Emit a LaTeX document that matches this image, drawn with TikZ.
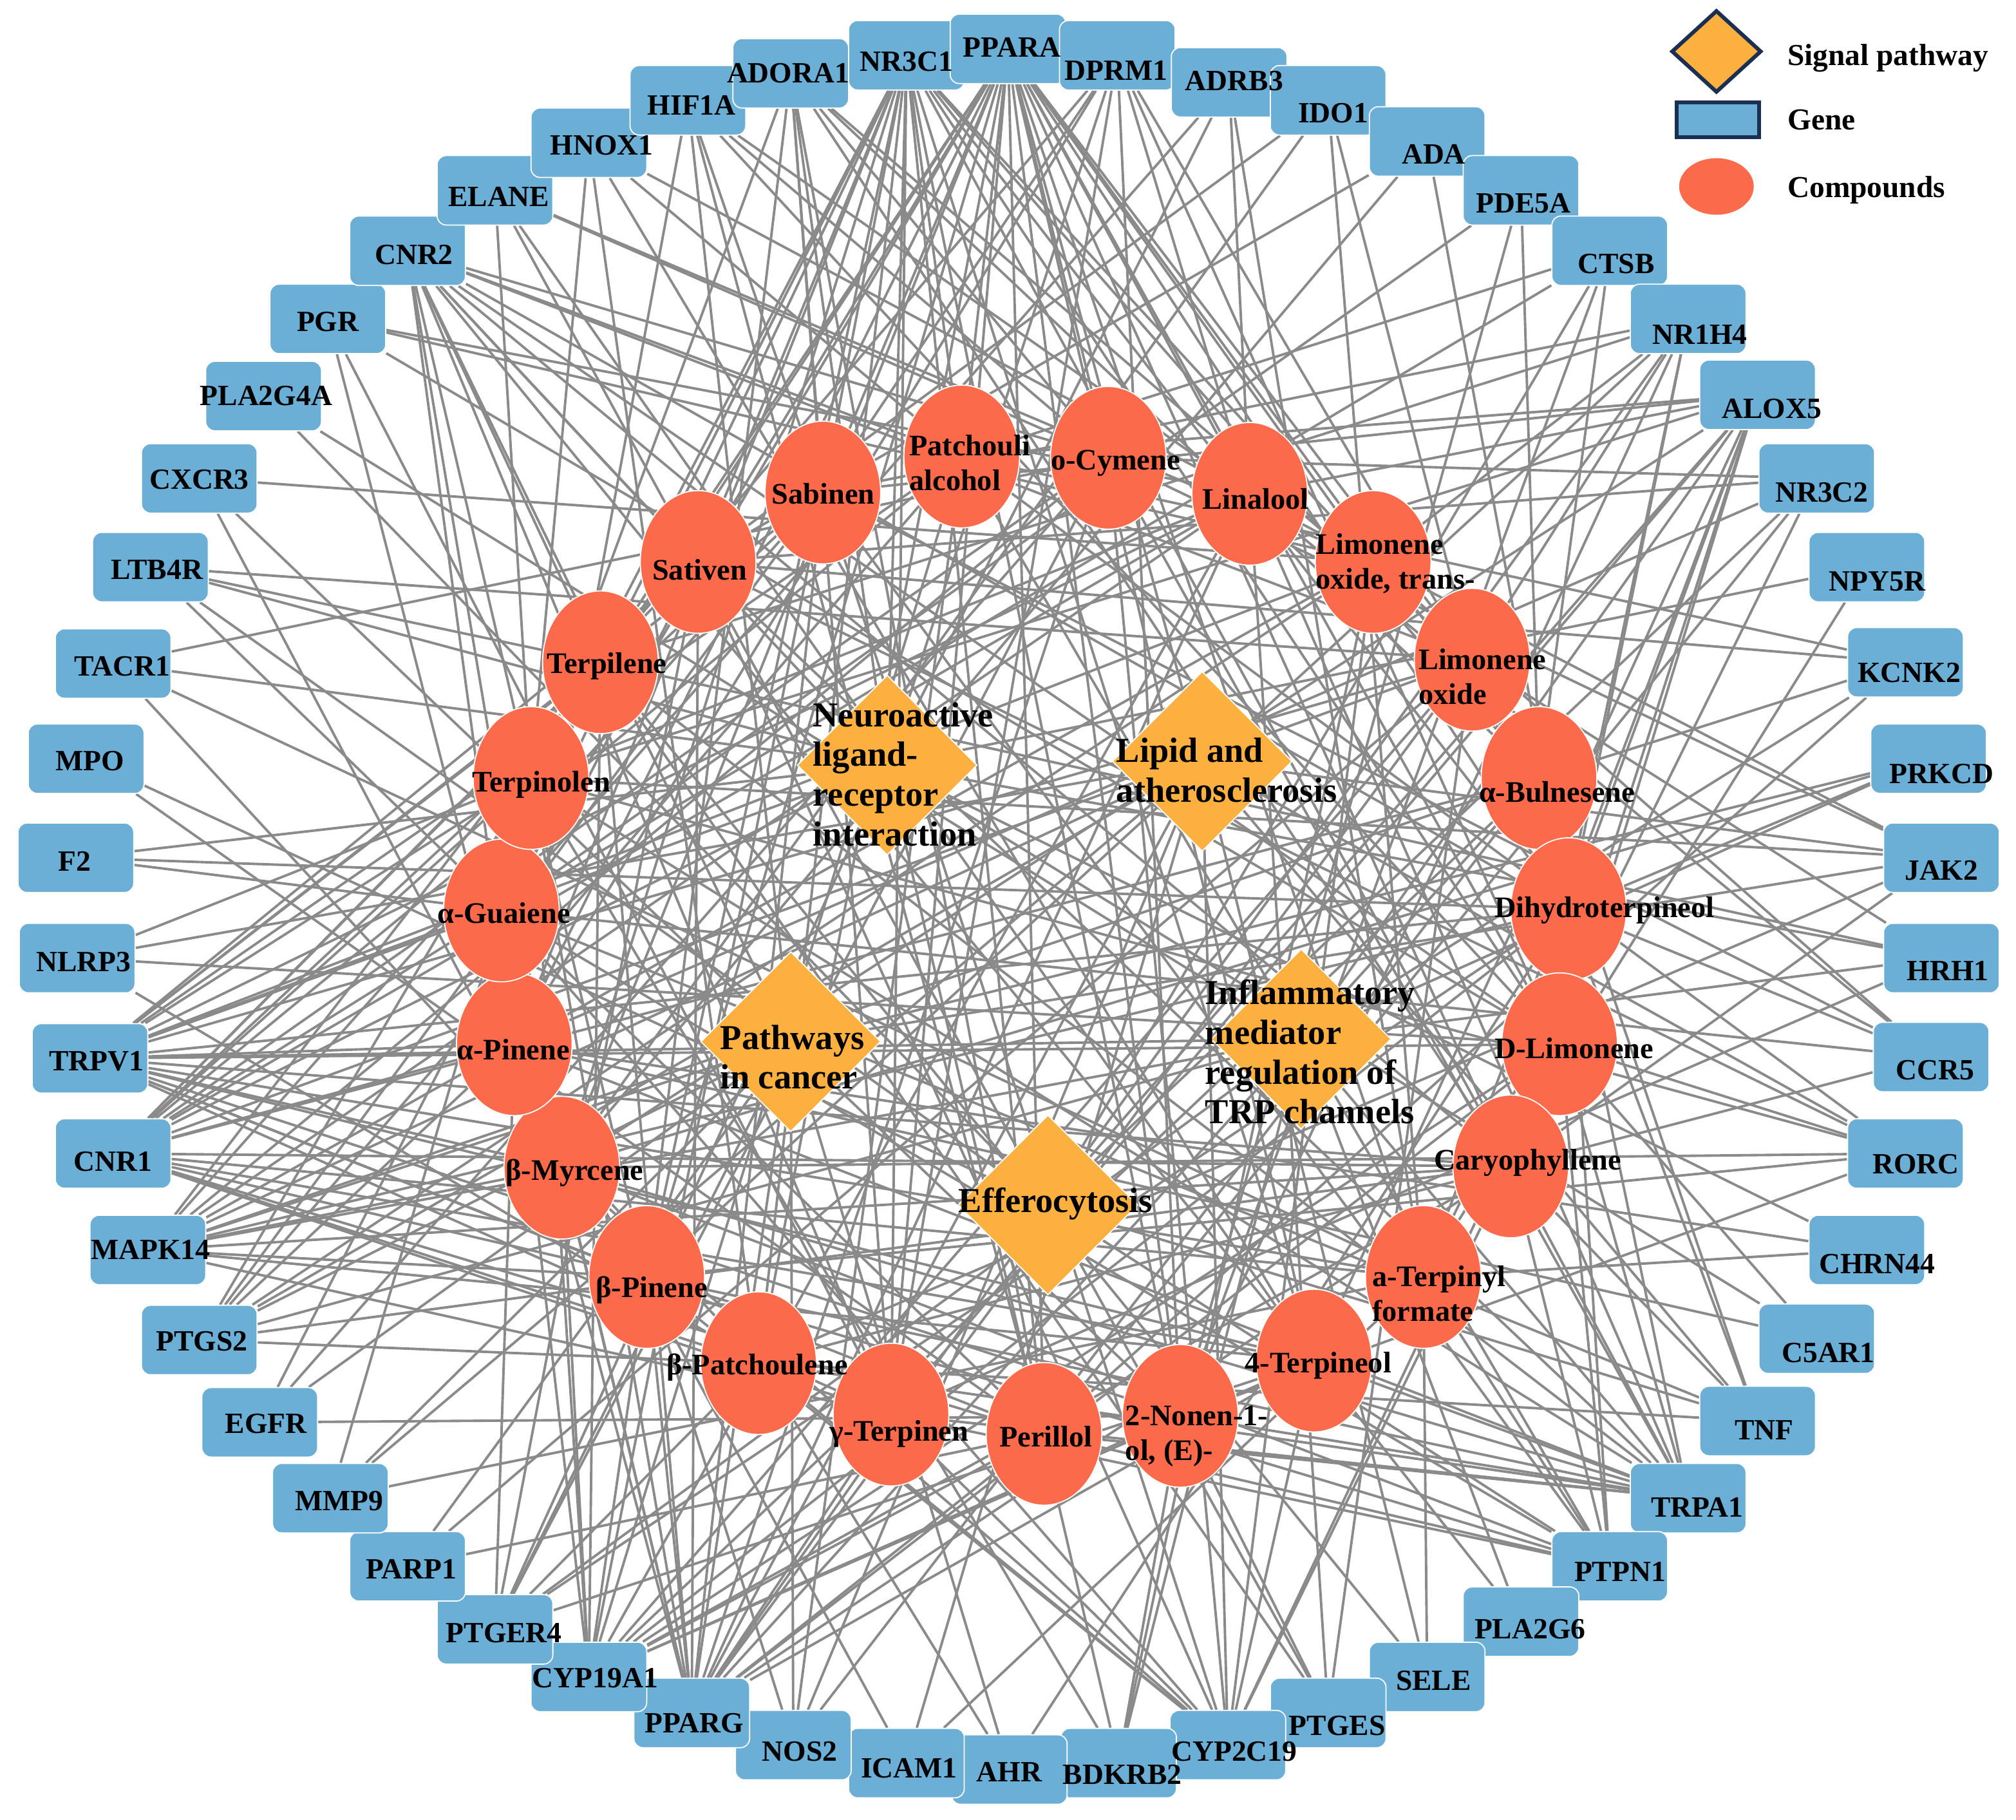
\documentclass[tikz,border=0pt]{standalone}
\usepackage{fontspec}
\setmainfont{Liberation Serif}
\usetikzlibrary{shapes.geometric, positioning, backgrounds}
\definecolor{GeneBlue}{HTML}{6BAED6}
\definecolor{CompRed}{HTML}{FB6A4A}
\definecolor{PathOrange}{HTML}{FBB040}
\definecolor{EdgeGray}{HTML}{8A8A8A}
\definecolor{LegendNavy}{HTML}{1B2F52}

\begin{document}
\begin{tikzpicture}[
    x=0.02cm, y=-0.02cm,
    gene/.style={draw=white, line width=0.5pt, fill=GeneBlue, rounded corners=4pt, minimum width=1.8cm, minimum height=1.08cm, inner sep=0pt},
    genetext/.style={inner sep=0pt, font=\bfseries\fontsize{13}{14}\selectfont},
    compound/.style={ellipse, draw=white, line width=0.5pt, fill=CompRed, minimum width=1.8cm, minimum height=2.22cm, inner sep=0pt},
    pathway/.style={diamond, draw=white, line width=0.5pt, fill=PathOrange, minimum width=2.8cm, minimum height=2.8cm, inner sep=0pt},
    cmpdtext/.style={anchor=west, align=left, inner sep=0pt, font=\bfseries\fontsize{13.2}{15.4}\selectfont},
    pathtext/.style={anchor=west, align=left, inner sep=0pt, font=\bfseries\fontsize{15.5}{17.6}\selectfont},
    legendtext/.style={anchor=west, inner sep=0pt, font=\bfseries\fontsize{13.5}{16}\selectfont},
    edge/.style={draw=EdgeGray, line width=1.1pt}
]
\useasboundingbox (0,0) rectangle (1568,1415);

% Genes (outer ring): name / box centre / label centre
\def\genelist{NR3C1/705/43/705/48, PPARA/784/38/787/37, DPRM1/869/43/868/55, ADRB3/956/64/960/63,
    IDO1/1033/78/1037/88, ADA/1110/110/1115/120, PDE5A/1183/148/1185/158, CTSB/1252/195/1257/205,
    NR1H4/1313/248/1322/260, ALOX5/1367/307/1378/318, NR3C2/1413/372/1417/383, NPY5R/1452/441/1460/452,
    KCNK2/1482/515/1485/523, PRKCD/1500/590/1510/602, JAK2/1510/667/1510/677, HRH1/1510/745/1515/755,
    CCR5/1502/822/1505/832, RORC/1482/897/1490/905, CHRN44/1452/972/1460/983, C5AR1/1413/1041/1422/1052,
    TNF/1367/1105/1372/1112, TRPA1/1313/1165/1320/1172, PTPN1/1252/1218/1260/1222, PLA2G6/1183/1261/1190/1267,
    SELE/1110/1304/1115/1307, PTGES/1033/1332/1040/1342, CYP2C19/955/1357/960/1362, BDKRB2/870/1371/873/1380,
    AHR/785/1376/785/1378, ICAM1/705/1371/707/1375, NOS2/617/1357/622/1362, PPARG/538/1332/540/1340,
    CYP19A1/458/1304/463/1305, PTGER4/385/1267/392/1270, PARP1/317/1218/320/1220, MMP9/257/1165/264/1167,
    EGFR/202/1106/207/1107, PTGS2/155/1042/157/1043, MAPK14/115/972/117/972, CNR1/88/897/88/903,
    TRPV1/70/823/75/825, NLRP3/60/745/65/748, F2/59/667/58/670, MPO/67/590/70/592,
    TACR1/88/516/95/518, LTB4R/117/441/122/443, CXCR3/155/372/155/373, PLA2G4A/205/308/207/308,
    PGR/255/248/255/250, CNR2/317/195/322/198, ELANE/385/148/388/153, HNOX1/458/111/468/113,
    HIF1A/535/78/538/82, ADORA1/615/57/613/57}
\foreach \g/\x/\y/\u/\v in \genelist
  \node[gene] (\g) at (\x,\y) {};
\foreach \g/\x/\y/\u/\v in \genelist
  \node[genetext] (\g-t) at (\u,\v) {\g};

% Compounds (inner ring)
\foreach \c/\x/\y in {patch/748/355, ocym/862/356, linal/972/384, limtr/1068/437, limox/1145/513,
    bulne/1197/605, dihyd/1220/707, dlim/1213/812, caryo/1175/907, aterp/1107/993,
    terpf/1022/1058, nonen/918/1101, peril/812/1115, gterp/693/1100, bpatch/590/1060,
    bpin/503/993, bmyr/437/908, apin/400/812, aguai/390/708, terpol/413/605,
    terpil/467/515, sativ/543/437, sabin/640/383}
  \node[compound] (\c) at (\x,\y) {};

\node[cmpdtext] (patch-t) at (707,360) {Patchouli\\alcohol};
\node[cmpdtext] (ocym-t) at (817,360) {o-Cymene};
\node[cmpdtext] (linal-t) at (935,388) {Linalool};
\node[cmpdtext] (limtr-t) at (1023,438) {Limonene\\oxide, trans-};
\node[cmpdtext] (limox-t) at (1103,526) {Limonene\\oxide};
\node[cmpdtext] (bulne-t) at (1150,616) {α-Bulnesene};
\node[cmpdtext] (dihyd-t) at (1162,708) {Dihydroterpineol};
\node[cmpdtext] (dlim-t) at (1162,815) {D-Limonene};
\node[cmpdtext] (caryo-t) at (1115,904) {Caryophyllene};
\node[cmpdtext] (aterp-t) at (1067,1006) {a-Terpinyl\\formate};
\node[cmpdtext] (terpf-t) at (968,1062) {4-Terpineol};
\node[cmpdtext] (nonen-t) at (875,1117) {2-Nonen-1-\\ol, (E)-};
\node[cmpdtext] (peril-t) at (777,1117) {Perillol};
\node[cmpdtext] (gterp-t) at (645,1115) {γ-Terpinen};
\node[cmpdtext] (bpatch-t) at (518,1063) {β-Patchoulene};
\node[cmpdtext] (bpin-t) at (463,1003) {β-Pinene};
\node[cmpdtext] (bmyr-t) at (393,912) {β-Myrcene};
\node[cmpdtext] (apin-t) at (355,816) {α-Pinene};
\node[cmpdtext] (aguai-t) at (340,710) {α-Guaiene};
\node[cmpdtext] (terpol-t) at (367,610) {Terpinolen};
\node[cmpdtext] (terpil-t) at (425,518) {Terpilene};
\node[cmpdtext] (sativ-t) at (507,443) {Sativen};
\node[cmpdtext] (sabin-t) at (600,384) {Sabinen};

% Signal pathways (centre)
\node[pathway] (neuro) at (690,595) {};
\node[pathway] (lipid) at (935,592) {};
\node[pathway] (cancer) at (615,810) {};
\node[pathway] (trp) at (1012,808) {};
\node[pathway] (effero) at (815,937) {};
\node[pathtext] (neuro-t) at (632,602) {Neuroactive\\ligand-\\receptor\\interaction};
\node[pathtext] (lipid-t) at (868,599) {Lipid and\\atherosclerosis};
\node[pathtext] (cancer-t) at (560,822) {Pathways\\in cancer};
\node[pathtext] (trp-t) at (937,818) {Inflammatory\\mediator\\regulation of\\TRP channels};
\node[pathtext, anchor=center] (effero-t) at (821,936) {Efferocytosis};

% Legend
\node[pathway, draw=LegendNavy, line width=1.7pt, minimum width=1.4cm, minimum height=1.28cm] (legpath) at (1335,40) {};
\node[gene, draw=LegendNavy, line width=1.7pt, rounded corners=0pt, minimum width=1.28cm, minimum height=0.54cm] (leggene) at (1336,93) {};
\node[compound, draw=none, minimum width=1.16cm, minimum height=0.88cm] (legcomp) at (1335,145) {};
\node[legendtext] (legpath-t) at (1390,45) {Signal pathway};
\node[legendtext] (leggene-t) at (1390,93) {Gene};
\node[legendtext] (legcomp-t) at (1390,148) {Compounds};

% Interactions
\begin{pgfonlayer}{background}
\fill[white] (0,0) rectangle (1568,1415);
\foreach \src/\targets in {
    patch/{PPARA,NR3C1,CNR2,TRPV1,CNR1,PTGS2,CYP19A1,ALOX5,RORC,PTPN1,HNOX1,CTSB,KCNK2,NOS2},
    ocym/{PPARA,ADORA1,HIF1A,TRPA1,CYP2C19,PTGER4,NR3C2,TACR1,MAPK14,EGFR,CNR2,ELANE,JAK2,PPARG,CNR1},
    linal/{PPARA,DPRM1,ADRB3,TRPV1,CNR1,NLRP3,CYP19A1,PPARG,TRPA1,ALOX5,CCR5,HIF1A,PGR,MAPK14,PTGES},
    limtr/{NR3C1,HNOX1,ELANE,PGR,CXCR3,PTGS2,CYP2C19,BDKRB2,JAK2,NR1H4,PPARA,TRPV1,MAPK14,CCR5},
    limox/{PPARA,IDO1,CNR2,TRPV1,LTB4R,PARP1,PPARG,PTGES,TNF,HRH1,ADORA1,NR1H4,CNR1,CYP19A1},
    bulne/{NR3C1,ADORA1,PDE5A,CTSB,KCNK2,TRPA1,CYP19A1,NOS2,MAPK14,CNR1,PPARA,DPRM1,PPARG,TNF},
    dihyd/{PPARA,ADA,NR1H4,ALOX5,PRKCD,CCR5,PTPN1,AHR,PTGER4,TRPV1,F2,NR3C1,CNR2,CYP19A1,MAPK14},
    dlim/{DPRM1,HIF1A,CNR2,PGR,TRPV1,NLRP3,CYP19A1,PPARG,CYP2C19,RORC,C5AR1,TRPA1,PPARA,NR3C1,ALOX5,PTPN1},
    caryo/{PPARA,NR3C1,ADORA1,CNR2,CNR1,TRPV1,MAPK14,PTGS2,PPARG,PTPN1,TNF,ALOX5,JAK2,CYP19A1,CYP2C19,TRPA1,NR1H4},
    aterp/{ADRB3,IDO1,NR3C2,NPY5R,CHRN44,SELE,ICAM1,MMP9,CNR1,TACR1,PPARA,TRPV1,PTPN1,ALOX5},
    terpf/{PPARA,NR3C1,HNOX1,ELANE,TRPV1,CYP19A1,PTGER4,CYP2C19,PLA2G6,TRPA1,ALOX5,CNR1,CNR2,MAPK14,PPARG},
    nonen/{PPARA,DPRM1,CTSB,PDE5A,NR1H4,RORC,PTGES,BDKRB2,EGFR,CXCR3,TRPV1,CYP19A1,NR3C1,TRPA1},
    peril/{NR3C1,ADORA1,HIF1A,LTB4R,MPO,CNR1,PARP1,CYP19A1,PTPN1,KCNK2,NR3C2,PPARA,TRPV1,TRPA1,PPARG},
    gterp/{PPARA,DPRM1,CNR2,PGR,TRPV1,MAPK14,PPARG,CYP2C19,TRPA1,ALOX5,HRH1,NR3C1,ADORA1,CNR1,PTPN1},
    bpatch/{NR3C1,HNOX1,TACR1,NLRP3,PTGS2,PTGER4,AHR,TNF,JAK2,CCR5,PPARA,CNR1,CYP2C19,TRPA1},
    bpin/{PPARA,ADORA1,CNR2,CNR1,TRPV1,CYP19A1,PPARG,NOS2,PTPN1,RORC,NR1H4,NR3C1,MAPK14,CYP2C19,TRPA1},
    bmyr/{PPARA,NR3C1,IDO1,ADA,CXCR3,TRPV1,MAPK14,CYP19A1,CYP2C19,TRPA1,ALOX5,PRKCD,CNR2,PPARG,PTPN1,RORC},
    apin/{DPRM1,HIF1A,PGR,CNR2,CNR1,PTGS2,PPARG,PTGER4,ICAM1,C5AR1,CHRN44,NR3C2,PPARA,NR3C1,TRPV1,TRPA1},
    aguai/{PPARA,ADRB3,PDE5A,CTSB,TRPV1,F2,MMP9,CYP2C19,PTPN1,CCR5,TNF,NR3C1,CNR1,CYP19A1,PPARG},
    terpol/{NR3C1,ADORA1,HNOX1,ELANE,CNR1,CYP19A1,BDKRB2,TRPA1,ALOX5,JAK2,RORC,PPARA,TRPV1,PTGS2,PPARG},
    terpil/{PPARA,DPRM1,CNR2,LTB4R,TRPV1,MAPK14,PPARG,PTGES,SELE,NR1H4,HRH1,NR3C1,CYP19A1,TRPA1,CNR1},
    sativ/{PPARA,NR3C1,IDO1,ADA,NR3C2,KCNK2,RORC,TRPA1,PTGER4,CNR1,EGFR,CNR2,TRPV1,PPARG,CYP2C19},
    sabin/{DPRM1,ADORA1,HIF1A,NR1H4,ALOX5,CCR5,PTPN1,CYP2C19,CYP19A1,TRPV1,MAPK14,PTGS2,PPARA,NR3C1,CNR1,PPARG},
    neuro/{ADORA1,NR3C1,ADRB3,CNR1,CNR2,TACR1,NPY5R,HRH1,CHRN44,BDKRB2,C5AR1,TRPV1,F2,DPRM1,LTB4R,PTGER4},
    lipid/{PPARA,PPARG,NLRP3,TNF,JAK2,MAPK14,SELE,ICAM1,CYP2C19,NOS2,MMP9,RORC,PTGS2},
    cancer/{PPARG,PTGS2,HIF1A,EGFR,MMP9,JAK2,PRKCD,NOS2,PARP1,MAPK14,PTGER4,AHR,CNR2},
    trp/{TRPV1,TRPA1,PTGS2,PRKCD,BDKRB2,HRH1,PLA2G6,MAPK14,PLA2G4A,ALOX5,PTGER4,KCNK2},
    effero/{PPARG,NR1H4,ALOX5,TNF,ELANE,MPO,CTSB,PTGES,LTB4R,PLA2G4A,NR3C2,PTPN1}}
  \foreach \t in \targets
    \draw[edge] (\src) -- (\t);
\end{pgfonlayer}

\end{tikzpicture}
\end{document}
